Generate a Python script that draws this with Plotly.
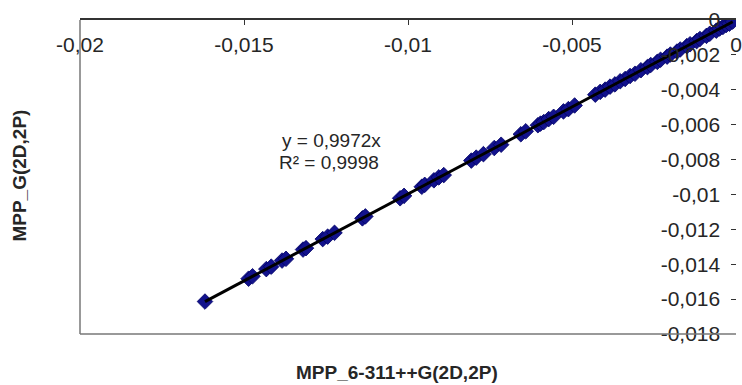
import plotly.graph_objects as go

# Data
x_vals = [-0.01619, -0.01486, -0.01474, -0.01432, -0.01417, -0.01384, -0.01372,
          -0.01320, -0.01311, -0.01260, -0.01245, -0.01224, -0.01139, -0.01130,
          -0.01024, -0.01012, -0.00958, -0.00949, -0.00921, -0.00906, -0.00891,
          -0.00807, -0.00792, -0.00770, -0.00737, -0.00716, -0.00656, -0.00641,
          -0.00604, -0.00596, -0.00586, -0.00571, -0.00556, -0.00526, -0.00511,
          -0.00492, -0.00429, -0.00414, -0.00399, -0.00384, -0.00369, -0.00353,
          -0.00338, -0.00323, -0.00308, -0.00290, -0.00270, -0.00260, -0.00240,
          -0.00230, -0.00210, -0.00200, -0.00180, -0.00170, -0.00150, -0.00140,
          -0.00120, -0.00110, -0.00090, -0.00080, -0.00060, -0.00050, -0.00040,
          -0.00030, -0.00020, -0.00010]
y_vals = [-0.01614, -0.01483, -0.01469, -0.01428, -0.01414, -0.01379, -0.01369,
          -0.01316, -0.01308, -0.01256, -0.01242, -0.01220, -0.01137, -0.01126,
          -0.01022, -0.01008, -0.00956, -0.00945, -0.00919, -0.00902, -0.00889,
          -0.00806, -0.00789, -0.00769, -0.00734, -0.00715, -0.00655, -0.00638,
          -0.00603, -0.00594, -0.00585, -0.00568, -0.00555, -0.00524, -0.00511,
          -0.00490, -0.00428, -0.00412, -0.00399, -0.00382, -0.00369, -0.00351,
          -0.00338, -0.00321, -0.00308, -0.00288, -0.00270, -0.00258, -0.00240,
          -0.00228, -0.00210, -0.00198, -0.00181, -0.00169, -0.00150, -0.00139,
          -0.00121, -0.00109, -0.00091, -0.00079, -0.00061, -0.00049, -0.00040,
          -0.00029, -0.00021, -0.00009]

slope = 0.9972
eq_line1 = "y = 0,9972x"
eq_line2 = "R² = 0,9998"

x_tickvals = [-0.02, -0.015, -0.01, -0.005, 0]
x_ticktext = ["-0,02", "-0,015", "-0,01", "-0,005", "0"]
y_tickvals = [0, -0.002, -0.004, -0.006, -0.008, -0.01, -0.012, -0.014, -0.016, -0.018]
y_ticktext = ["0", "-0,002", "-0,004", "-0,006", "-0,008", "-0,01", "-0,012",
              "-0,014", "-0,016", "-0,018"]

x_title = "MPP_6-311++G(2D,2P)"
y_title = "MPP_G(2D,2P)"

font_family = "Liberation Sans, Arial, sans-serif"
txt_color = "#262626"

fig = go.Figure()

fig.add_trace(go.Scatter(
    x=x_vals, y=y_vals, mode="markers",
    marker=dict(symbol="diamond", size=12, color="#12128c",
                line=dict(color="#000066", width=0.8)),
    showlegend=False, hoverinfo="x+y"))

x_lo, x_hi = min(x_vals), max(x_vals)
fig.add_trace(go.Scatter(
    x=[x_lo, x_hi], y=[slope * x_lo, slope * x_hi], mode="lines",
    line=dict(color="black", width=3), showlegend=False, hoverinfo="skip"))

fig.update_layout(
    width=742, height=385,
    margin=dict(l=80, r=0, t=20, b=51),
    paper_bgcolor="white", plot_bgcolor="white",
    font=dict(family=font_family, size=21, color=txt_color),
    xaxis=dict(range=[-0.02, 0], side="top", tickvals=x_tickvals, ticktext=x_ticktext,
               ticklabelposition="inside", ticklabeloverflow="allow",
               ticks="inside", ticklen=5, tickcolor="#333333",
               showline=True, linecolor="#333333", linewidth=1.5,
               showgrid=False, zeroline=False, ticklabelstandoff=14,
               tickfont=dict(size=21, color=txt_color)),
    yaxis=dict(range=[-0.018, 0], side="right", tickvals=y_tickvals, ticktext=y_ticktext,
               ticklabelposition="inside", ticklabeloverflow="allow",
               ticks="inside", ticklen=5, tickcolor="#333333",
               showline=False, showgrid=False, zeroline=False, ticklabelstandoff=12,
               tickfont=dict(size=21, color=txt_color)),
    shapes=[
        dict(type="line", xref="paper", yref="paper", x0=0, x1=0, y0=0, y1=1,
             line=dict(color="#777777", width=1.5)),
        dict(type="line", xref="paper", yref="paper", x0=0, x1=1, y0=0, y1=0,
             line=dict(color="#777777", width=1.5)),
    ],
    annotations=[
        dict(text=eq_line1, xref="x", yref="y", x=-0.01232, y=-0.00690,
             showarrow=False, xanchor="center", yanchor="middle",
             font=dict(size=19, color=txt_color)),
        dict(text=eq_line2, xref="x", yref="y", x=-0.01399, y=-0.00815,
             showarrow=False, xanchor="left", yanchor="middle",
             font=dict(size=19, color=txt_color)),
        dict(text="<b>" + x_title + "</b>", xref="paper", yref="paper",
             x=(400 - 80) / 662, y=-(372 - 334) / 314, showarrow=False,
             yanchor="middle", font=dict(size=19, color=txt_color)),
        dict(text="<b>" + y_title + "</b>", xref="paper", yref="paper",
             x=-(80 - 18) / 662, y=(334 - 176) / 314, showarrow=False,
             textangle=-90, xanchor="center", yanchor="middle",
             font=dict(size=19, color=txt_color)),
    ],
)

fig.write_html("out.html")
